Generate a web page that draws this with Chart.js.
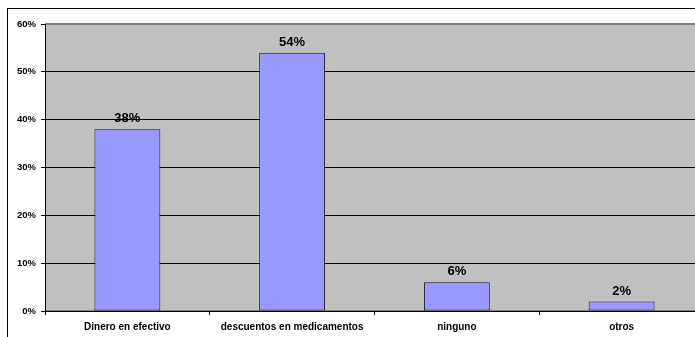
<!DOCTYPE html>
<html>
<head>
<meta charset="utf-8">
<script src="https://cdn.jsdelivr.net/npm/chart.js@4/dist/chart.umd.min.js"></script>
<style>
  html, body { margin: 0; padding: 0; background: #fff; overflow: hidden; }
  #wrap { position: relative; width: 720px; height: 345px; }
</style>
</head>
<body>
<div id="wrap"><canvas id="myChart" width="720" height="345"></canvas></div>
<script>
const categories = ['Dinero en efectivo', 'descuentos en medicamentos', 'ninguno', 'otros'];
const values = [38, 54, 6, 2];
const valueLabels = ['38%', '54%', '6%', '2%'];
const yTicks = [0, 10, 20, 30, 40, 50, 60];

const FONT = '"Liberation Sans", Arial, sans-serif';

// grey plot area with a thin darker frame, plus the outer chart border
const plotBackground = {
    id: 'plotBackground',
    beforeDraw(chart) {
        const { ctx, chartArea: a } = chart;
        ctx.save();
        ctx.fillStyle = '#c0c0c0';
        ctx.fillRect(a.left, a.top, a.right - a.left, a.bottom - a.top);
        ctx.strokeStyle = '#808080';
        ctx.lineWidth = 1;
        ctx.strokeRect(a.left + 0.5, a.top - 0.5, a.right - a.left, a.bottom - a.top);
        ctx.strokeStyle = '#000';
        ctx.strokeRect(7.5, 8.5, 705, 350);
        ctx.restore();
    }
};

// percentage labels above each bar
const barLabels = {
    id: 'barLabels',
    afterDatasetsDraw(chart) {
        const { ctx } = chart;
        const meta = chart.getDatasetMeta(0);
        ctx.save();
        ctx.font = 'bold 13px ' + FONT;
        ctx.fillStyle = '#000';
        ctx.textAlign = 'center';
        ctx.textBaseline = 'bottom';
        meta.data.forEach((bar, i) => {
            ctx.fillText(valueLabels[i], bar.x, bar.y - 4);
        });
        ctx.restore();
    }
};

var ctx = document.getElementById('myChart').getContext('2d');

var myChart = new Chart(ctx, {
    type: 'bar',
    data: {
        labels: categories,
        datasets: [{
            data: values,
            backgroundColor: '#9999ff',
            borderColor: '#1a1a2a',
            borderWidth: 1,
            borderSkipped: false,
            categoryPercentage: 0.4,
            barPercentage: 1.0
        }]
    },
    options: {
        responsive: false,
        animation: false,
        layout: {
            padding: { left: 0, right: 16, top: 24, bottom: 0 }
        },
        plugins: {
            legend: { display: false },
            tooltip: { enabled: false }
        },
        scales: {
            x: {
                grid: {
                    offset: true,
                    drawOnChartArea: false,
                    drawTicks: true,
                    tickLength: 4,
                    color: '#000'
                },
                border: { color: '#000', width: 1 },
                ticks: {
                    color: '#000',
                    padding: 6,
                    maxRotation: 0,
                    autoSkip: false,
                    font: { family: FONT, size: 10, weight: 'bold' }
                },
                afterFit(scale) { scale.height = 345 - 311; }
            },
            y: {
                min: 0,
                max: 60,
                afterBuildTicks(scale) {
                    scale.ticks = yTicks.map(v => ({ value: v }));
                },
                grid: {
                    color: (c) => c.tick && c.tick.value === 60 ? '#808080' : '#000',
                    tickLength: 4,
                    tickColor: '#000'
                },
                border: { color: '#000', width: 1 },
                ticks: {
                    color: '#000',
                    padding: 5,
                    font: { family: FONT, size: 9.5, weight: 'bold' },
                    callback: (v) => v + '%'
                },
                afterFit(scale) { scale.width = 45; }
            }
        }
    },
    plugins: [plotBackground, barLabels]
});
</script>
</body>
</html>
